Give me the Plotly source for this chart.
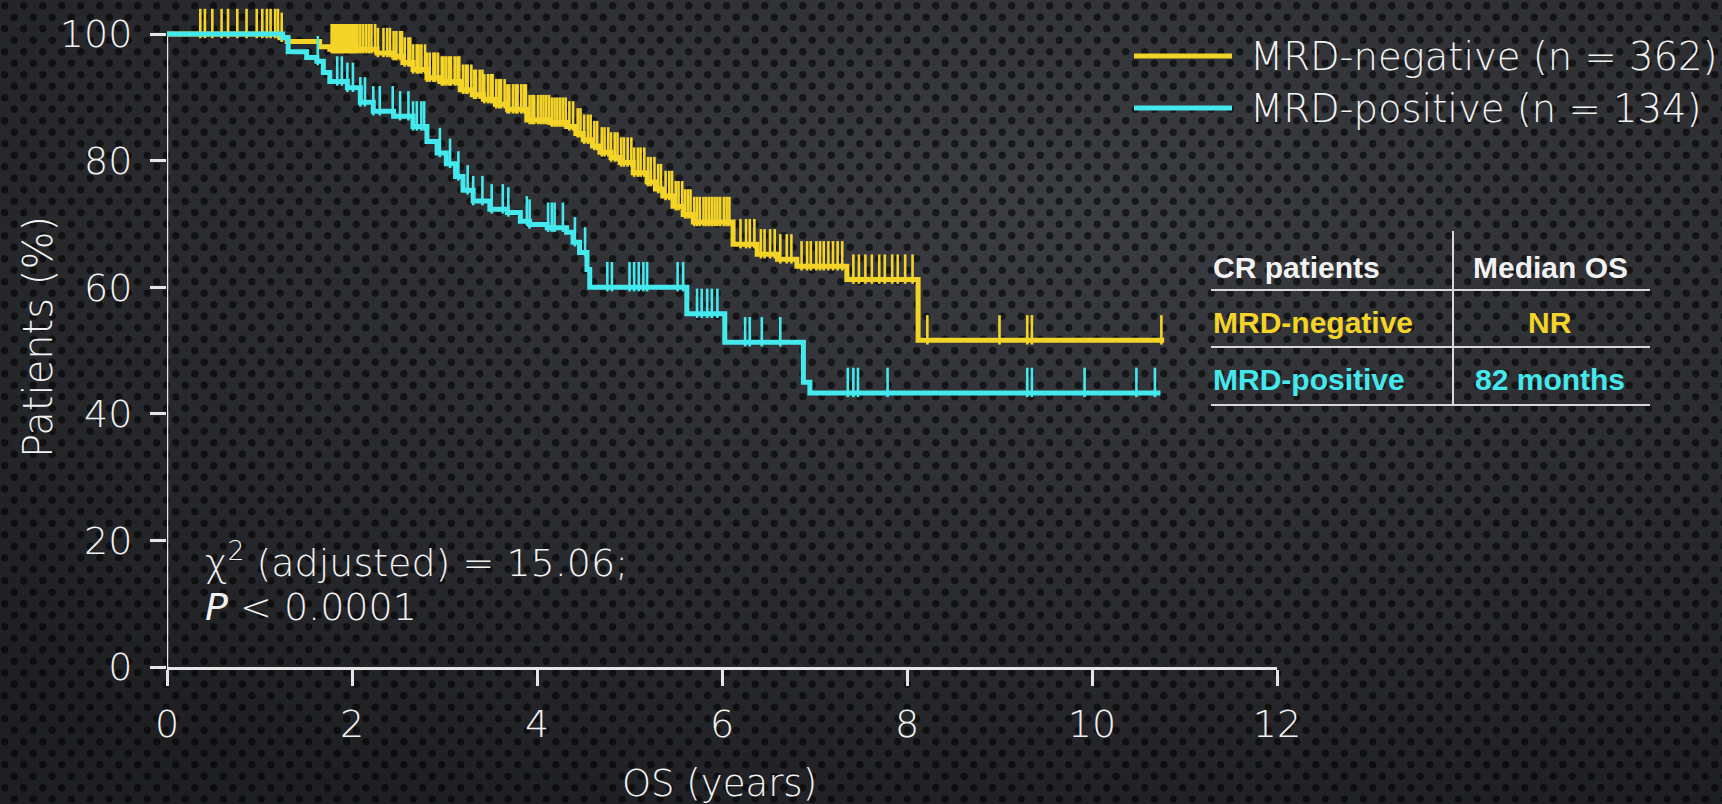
import base64
import plotly.graph_objects as go

# ---- Kaplan-Meier data (years, % of patients alive) ----
neg_time = [0, 1.22, 1.30, 1.65, 1.76, 2.27, 2.45, 2.55, 2.66, 2.81, 2.95, 3.17, 3.30, 3.42,
            3.55, 3.68, 3.89, 4.14, 4.32, 4.42, 4.50, 4.60, 4.68, 4.80, 4.90, 5.04, 5.19,
            5.28, 5.36, 5.47, 5.58, 5.69, 6.12, 6.38, 6.60, 6.81, 7.35, 8.12]
neg_surv = [100, 99.4, 98.8, 98.0, 97.6, 97.0, 96.5, 95.5, 94.4, 93.1, 92.5, 91.2, 90.4, 89.7,
            88.9, 88.1, 86.4, 86.0, 85.4, 84.3, 83.3, 82.3, 81.3, 80.5, 79.7, 78.1, 76.6,
            75.5, 74.4, 72.8, 71.5, 70.3, 66.8, 65.2, 64.4, 63.3, 61.2, 51.6]
neg_end = 10.78
neg_censor = [0.36, 0.41, 0.49, 0.59, 0.66, 0.76, 0.86, 0.97, 1.03, 1.08, 1.12, 1.17, 1.20, 1.24,
              1.78, 1.80, 1.82, 1.84, 1.86, 1.88, 1.90, 1.92, 1.94, 1.96, 1.98, 2.00, 2.02,
              2.04, 2.06, 2.09, 2.12, 2.15, 2.18, 2.21, 2.25, 2.28,
              2.34, 2.38, 2.41, 2.45, 2.48, 2.52, 2.54, 2.57, 2.61, 2.63, 2.66, 2.70, 2.72,
              2.75, 2.79, 2.81, 2.84, 2.88, 2.90, 2.93, 2.97, 2.99,
              3.02, 3.05, 3.07, 3.11, 3.14, 3.16, 3.20, 3.23, 3.25, 3.29, 3.32, 3.34, 3.38,
              3.41, 3.43, 3.47, 3.50, 3.52, 3.56, 3.59, 3.61, 3.65, 3.68, 3.70, 3.74, 3.77,
              3.79, 3.83, 3.86, 3.88, 3.92, 3.95, 3.97,
              4.01, 4.04, 4.07, 4.10, 4.13, 4.16, 4.19, 4.22, 4.25, 4.28, 4.31, 4.35, 4.39,
              4.44, 4.47, 4.51, 4.55, 4.58, 4.62, 4.65, 4.70, 4.73, 4.77, 4.80, 4.84, 4.87,
              4.91, 4.94, 4.98,
              5.02, 5.05, 5.09, 5.12, 5.16, 5.20, 5.23, 5.27, 5.31, 5.34, 5.39, 5.43, 5.46,
              5.50, 5.53, 5.57, 5.60, 5.63, 5.66, 5.70, 5.73, 5.76, 5.80, 5.83, 5.86, 5.89,
              5.92, 5.95, 5.98, 6.02, 6.05, 6.08,
              6.20, 6.26, 6.30, 6.35, 6.42, 6.46, 6.52, 6.57, 6.63, 6.70, 6.75, 6.86, 6.92,
              6.96, 7.02, 7.06, 7.10, 7.15, 7.20, 7.25, 7.30,
              7.42, 7.48, 7.55, 7.62, 7.70, 7.76, 7.84, 7.90, 7.98, 8.06,
              8.22, 9.00, 9.30, 9.35, 10.75]

pos_time = [0, 1.25, 1.31, 1.51, 1.62, 1.69, 1.76, 1.95, 2.09, 2.23, 2.45, 2.66, 2.81, 2.92,
            3.02, 3.12, 3.20, 3.31, 3.49, 3.68, 3.82, 3.92, 4.11, 4.32, 4.39, 4.46, 4.54,
            4.57, 5.62, 6.03, 6.88, 6.95]
pos_surv = [100, 99.4, 97.2, 96.3, 95.7, 93.9, 92.5, 91.5, 89.2, 87.8, 87.0, 85.4, 83.0, 81.2,
            79.5, 77.5, 75.3, 73.6, 72.3, 71.8, 70.4, 69.9, 69.4, 68.7, 67.1, 65.5, 62.8,
            60.0, 55.8, 51.3, 45.0, 43.3]
pos_end = 10.74
pos_censor = [1.63, 1.84, 1.89, 1.95, 2.01, 2.09, 2.14, 2.23, 2.30, 2.44, 2.52, 2.61, 2.66,
              2.70, 2.75, 2.78, 2.95, 3.06, 3.15, 3.25, 3.31, 3.41, 3.51, 3.63, 3.69, 3.89,
              3.92, 4.12, 4.16, 4.19, 4.28, 4.41, 4.52,
              4.76, 4.81, 5.00, 5.05, 5.10, 5.15, 5.19, 5.52, 5.58,
              5.73, 5.78, 5.84, 5.89, 5.95,
              6.25, 6.30, 6.43, 6.63,
              7.36, 7.42, 7.47, 7.79, 9.30, 9.35, 9.92, 10.48, 10.68]

x_ticks = [0, 2, 4, 6, 8, 10, 12]
y_ticks = [0, 20, 40, 60, 80, 100]

legend_labels = ["MRD-negative (n = 362)", "MRD-positive (n = 134)"]
table_header = ["CR patients", "Median OS"]
table_groups = ["MRD-negative", "MRD-positive"]
table_median = ["NR", "82 months"]
stat_lines = ["\u03c7<sup>2</sup> (adjusted) = 15.06;", "<i>P</i> &lt; 0.0001"]

YELLOW = "#f5d428"
CYAN = "#44e9ee"
WHITE = "#f2f2f2"
AXIS = "#e6e6e6"
FONT = "DejaVu Sans"
FW = 200

W, H = 1722, 804
# pixel frame of the 0-12 / 0-100 axes
X0_PX, X1_PX = 167, 1277
Y0_PX, Y100_PX = 667, 34
T = 8
L, R, B = X0_PX, W - X1_PX, H - Y0_PX
PW, PH = W - L - R, H - T - B
UNIT = (Y0_PX - Y100_PX) / 100.0          # px per % point
Y_TOP = (Y0_PX - T) / UNIT                # headroom above 100 % for the curves
TICK_PX = 21                              # censor mark length


def px(x):
    return (x - L) / PW


def py(y):
    return 1 - (y - T) / PH


def surv_at(times, survs, t):
    s = survs[0]
    for ti, si in zip(times, survs):
        if ti <= t:
            s = si
    return s


fig = go.Figure()

for times, survs, end, cens, color, name in [
    (neg_time, neg_surv, neg_end, neg_censor, YELLOW, legend_labels[0]),
    (pos_time, pos_surv, pos_end, pos_censor, CYAN, legend_labels[1]),
]:
    fig.add_trace(go.Scatter(
        x=times + [end], y=survs + [survs[-1]], mode="lines", line_shape="hv",
        line=dict(color=color, width=5), name=name, showlegend=False,
    ))
    # censor marks: vertical dashes standing on the curve
    cy = [surv_at(times, survs, c) + TICK_PX / 2 / UNIT for c in cens]
    fig.add_trace(go.Scatter(
        x=cens, y=cy, mode="markers", cliponaxis=False, showlegend=False, hoverinfo="skip",
        marker=dict(symbol="line-ns", size=TICK_PX, line=dict(color=color, width=2.6)),
    ))

# textured dark backdrop
svg = f'''<svg xmlns="http://www.w3.org/2000/svg" width="{W}" height="{H}">
<defs>
<pattern id="p" width="19" height="23" patternUnits="userSpaceOnUse">
<rect width="19" height="23" fill="#3b3d42"/>
<circle cx="4.75" cy="5.75" r="3.7" fill="#18191c"/>
<circle cx="14.25" cy="17.25" r="3.7" fill="#18191c"/>
</pattern>
<radialGradient id="g" cx="0.62" cy="0.25" r="0.85">
<stop offset="0" stop-color="#000" stop-opacity="0"/>
<stop offset="1" stop-color="#000" stop-opacity="0.5"/>
</radialGradient>
</defs>
<rect width="100%" height="100%" fill="url(#p)"/>
<rect width="100%" height="100%" fill="url(#g)"/>
</svg>'''
bg_uri = "data:image/svg+xml;base64," + base64.b64encode(svg.encode()).decode()

shapes = [dict(type="line", xref="x", yref="y", x0=0, x1=0, y0=0, y1=100, layer="below",
               line=dict(color=AXIS, width=2.5))]
annotations = []

# legend
for i, (label, color) in enumerate(zip(legend_labels, [YELLOW, CYAN])):
    yc = 56 + i * 52
    shapes.append(dict(type="line", xref="paper", yref="paper",
                       x0=px(1134), x1=px(1232), y0=py(yc), y1=py(yc),
                       line=dict(color=color, width=5)))
    annotations.append(dict(xref="paper", yref="paper", x=px(1248), y=py(yc),
                            text=label, showarrow=False, xanchor="left", yanchor="middle",
                            font=dict(family=FONT, size=38.5, color=WHITE, weight=FW)))

# summary table
for yl in [290, 347, 405]:
    shapes.append(dict(type="line", xref="paper", yref="paper",
                       x0=px(1211), x1=px(1650), y0=py(yl), y1=py(yl),
                       line=dict(color="#d8d8d8", width=2)))
shapes.append(dict(type="line", xref="paper", yref="paper",
                   x0=px(1453), x1=px(1453), y0=py(231), y1=py(405),
                   line=dict(color="#d8d8d8", width=2)))

tfont = "Liberation Sans Narrow, Arial Narrow, Liberation Sans, sans-serif"
rows = [(table_header[0], table_header[1], WHITE, 267)]
rows += [(g, m, c, yc) for g, m, c, yc in zip(table_groups, table_median, [YELLOW, CYAN], [322, 379])]
for left, right, color, yc in rows:
    annotations.append(dict(xref="paper", yref="paper", x=px(1211), y=py(yc), text=f"<b>{left}</b>",
                            showarrow=False, xanchor="left", yanchor="middle",
                            font=dict(family=tfont, size=30, color=color)))
    annotations.append(dict(xref="paper", yref="paper", x=px(1550), y=py(yc), text=f"<b>{right}</b>",
                            showarrow=False, xanchor="center", yanchor="middle",
                            font=dict(family=tfont, size=30, color=color)))

# log-rank statistic
for i, line in enumerate(stat_lines):
    annotations.append(dict(xref="paper", yref="paper", x=px(203), y=py(560 + i * 47), text=line,
                            showarrow=False, xanchor="left", yanchor="middle",
                            font=dict(family=FONT, size=38, color=WHITE, weight=FW)))

# axis titles
annotations.append(dict(xref="paper", yref="paper", x=px(719), y=py(783), text="OS (years)",
                        showarrow=False, xanchor="center", yanchor="middle",
                        font=dict(family=FONT, size=37, color=WHITE, weight=FW)))
annotations.append(dict(xref="paper", yref="paper", x=px(38), y=py(337), text="Patients (%)",
                        showarrow=False, xanchor="center", yanchor="middle", textangle=-90,
                        font=dict(family=FONT, size=40, color=WHITE, weight=FW)))

axis_common = dict(ticks="outside", ticklen=16, tickwidth=2.5, tickcolor=AXIS,
                   showgrid=False, zeroline=False,
                   tickfont=dict(family=FONT, size=38, color=WHITE, weight=FW))

fig.update_layout(
    width=W, height=H, autosize=False,
    margin=dict(l=L, r=R, t=T, b=B),
    paper_bgcolor="#2c2e32", plot_bgcolor="rgba(0,0,0,0)",
    images=[dict(source=bg_uri, xref="paper", yref="paper", x=-L / PW, y=1 + T / PH,
                 sizex=W / PW, sizey=H / PH, xanchor="left", yanchor="top",
                 sizing="stretch", layer="below")],
    xaxis=dict(range=[0, 12], tickvals=x_ticks, ticklabelstandoff=6,
               showline=True, linecolor=AXIS, linewidth=2.5, **axis_common),
    yaxis=dict(range=[0, Y_TOP], tickvals=y_ticks, ticklabelstandoff=10,
               showline=False, **axis_common),
    shapes=shapes, annotations=annotations, showlegend=False,
)

fig.write_html("out.html")
